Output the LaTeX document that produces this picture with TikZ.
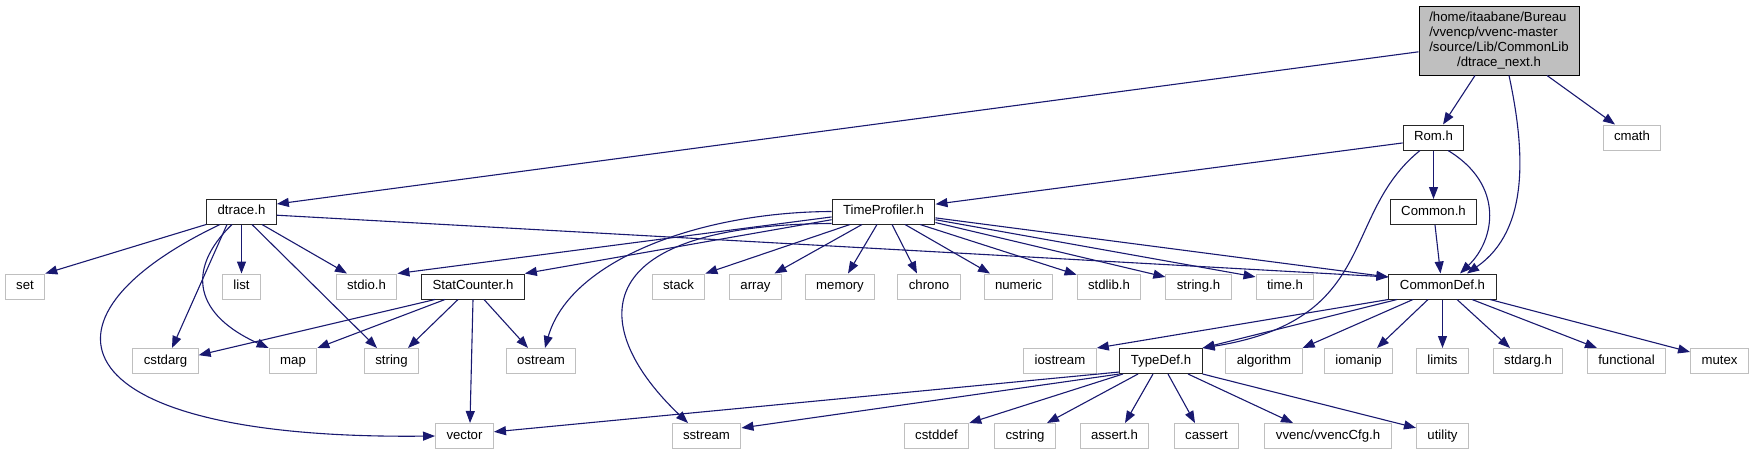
\documentclass[tikz,border=0pt]{standalone}
\usepackage{fontspec}
\setmainfont{Liberation Sans}
\usepackage{xcolor}
\usetikzlibrary{arrows.meta}

\definecolor{edgeblue}{RGB}{25,25,112}
\definecolor{grey75}{RGB}{191,191,191}

\begin{document}
\begin{tikzpicture}[x=1pt,y=-1pt,
  hdr/.style={draw=black!85,fill=white,line width=1pt,minimum height=25pt,inner xsep=11pt,inner ysep=0pt,
    font=\fontsize{13.2}{15}\selectfont,text height=9.6pt,text depth=2.8pt},
  sys/.style={hdr,draw=grey75},
  cur/.style={draw=black,fill=grey75,line width=1pt,minimum width=160pt,minimum height=69pt,inner sep=0pt,
    font=\fontsize{13.2}{15}\selectfont},
  incl/.style={draw=edgeblue,line width=1.1pt,-{Triangle[length=12pt,width=9pt]}}]

\useasboundingbox (0,0) rectangle (1755,455);

% The file itself
\node[cur] (main) at (1499,40.5) {\begin{tabular}{@{}l@{}}
/home/itaabane/Bureau\\
/vvencp/vvenc-master\\
/source/Lib/CommonLib\\
\multicolumn{1}{@{}c@{}}{/dtrace\_next.h}
\end{tabular}};

% Headers of the project
\node[hdr] (rom) at (1433.5,137.5) {Rom.h};
\node[sys] (cmath) at (1632,137.5) {cmath};
\node[hdr] (dtrace) at (241.5,211.5) {dtrace.h};
\node[hdr] (timeprof) at (883.5,211.5) {TimeProfiler.h};
\node[hdr] (common) at (1433.5,212) {Common.h};

% Row of stdio.h ... CommonDef.h
\node[sys] (set) at (25,286.5) {set};
\node[sys] (list) at (241.5,286.5) {list};
\node[sys] (stdio) at (366.5,286.5) {stdio.h};
\node[hdr] (statcnt) at (473,286.5) {StatCounter.h};
\node[sys] (stack) at (678.5,286.5) {stack};
\node[sys] (array) at (755.5,286.5) {array};
\node[sys] (memory) at (840,286.5) {memory};
\node[sys] (chrono) at (929,286.5) {chrono};
\node[sys] (numeric) at (1018.5,286.5) {numeric};
\node[sys] (stdlib) at (1109,286.5) {stdlib.h};
\node[sys] (stringh) at (1198.5,286.5) {string.h};
\node[sys] (timeh) at (1285,286.5) {time.h};
\node[hdr] (commondef) at (1442.5,286.5) {CommonDef.h};

% Row of cstdarg ... mutex
\node[sys] (cstdarg) at (165.5,361) {cstdarg};
\node[sys] (map) at (293,361) {map};
\node[sys] (string) at (391.5,361) {string};
\node[sys] (ostream) at (541,361) {ostream};
\node[sys] (iostream) at (1060,361) {iostream};
\node[hdr] (typedef) at (1161,361) {TypeDef.h};
\node[sys] (algorithm) at (1264,361) {algorithm};
\node[sys] (iomanip) at (1358.5,361) {iomanip};
\node[sys] (limits) at (1442.5,361) {limits};
\node[sys] (stdarg) at (1528,361) {stdarg.h};
\node[sys] (functional) at (1626.5,361) {functional};
\node[sys] (mutex) at (1719.5,361) {mutex};

% Bottom row
\node[sys] (vector) at (464.5,436) {vector};
\node[sys] (sstream) at (706.5,436) {sstream};
\node[sys] (cstddef) at (936.5,436) {cstddef};
\node[sys] (cstring) at (1025,436) {cstring};
\node[sys] (assert) at (1114.5,436) {assert.h};
\node[sys] (cassert) at (1206.5,436) {cassert};
\node[sys] (vvenccfg) at (1328,436) {vvenc/vvencCfg.h};
\node[sys] (utility) at (1442.5,436) {utility};

% includes of dtrace_next.h
\draw[incl] (main.188) -- (dtrace.12);
\draw[incl] ([xshift=-24pt]main.south) -- ([xshift=9.5pt]rom.north);
\draw[incl] ([xshift=10pt]main.south) .. controls (1525,150) and (1530,230) .. ([xshift=24.5pt]commondef.north);
\draw[incl] ([xshift=48pt]main.south) -- ([xshift=-17pt]cmath.north);

% includes of Rom.h
\draw[incl] (rom.190) -- (timeprof.8);
\draw[incl] (rom.south) -- (common.north);
\draw[incl] ([xshift=14.5pt]rom.south) .. controls (1505,185) and (1495,240) .. ([xshift=17.5pt]commondef.north);
\draw[incl] ([xshift=-13.5pt]rom.south) .. controls (1340,215) and (1380,320) .. (typedef.north east);

% Common.h
\draw[incl] ([xshift=1.5pt]common.south) -- ([xshift=-2pt]commondef.north);

% includes of dtrace.h
\draw[incl] (dtrace.south west) -- (set.north east);
\draw[incl] ([xshift=-21.5pt]dtrace.south) .. controls (20,320) and (60,440) .. (vector.west);
\draw[incl] ([xshift=-14.5pt]dtrace.south) -- ([xshift=6.5pt]cstdarg.north);
\draw[incl] ([xshift=-9.5pt]dtrace.south) .. controls (185,270) and (195,315) .. (map.north west);
\draw[incl] (dtrace.south) -- (list.north);
\draw[incl] ([xshift=10.5pt]dtrace.south) -- ([xshift=-14.5pt]string.north);
\draw[incl] ([xshift=20.5pt]dtrace.south) -- ([xshift=-19.5pt]stdio.north);
\draw[incl] (dtrace.-6) -- (commondef.170);

% includes of TimeProfiler.h
\draw[incl] (timeprof.186) -- (stdio.north east);
\draw[incl] (timeprof.189) -- (statcnt.north east);
\draw[incl] (timeprof.west) .. controls (700,212) and (570,260) .. ([xshift=4pt]ostream.north);
\draw[incl] (timeprof.193) .. controls (580,225) and (590,330) .. ([xshift=-18.5pt]sstream.north);
\draw[incl] ([xshift=-33.5pt]timeprof.south) -- (stack.north east);
\draw[incl] ([xshift=-21.5pt]timeprof.south) -- ([xshift=19pt]array.north);
\draw[incl] ([xshift=-6.5pt]timeprof.south) -- ([xshift=8pt]memory.north);
\draw[incl] ([xshift=8.5pt]timeprof.south) -- ([xshift=-12pt]chrono.north);
\draw[incl] ([xshift=21.5pt]timeprof.south) -- ([xshift=-28.5pt]numeric.north);
\draw[incl] ([xshift=36.5pt]timeprof.south) -- (stdlib.160);
\draw[incl] (timeprof.-12) -- (stringh.164);
\draw[incl] (timeprof.-9) -- (timeh.162);
\draw[incl] (timeprof.-7) -- (commondef.170);

% includes of StatCounter.h
\draw[incl] ([xshift=-38pt]statcnt.south) -- (cstdarg.10);
\draw[incl] ([xshift=-28pt]statcnt.south) -- (map.north east);
\draw[incl] ([xshift=-15pt]statcnt.south) -- ([xshift=16.5pt]string.north);
\draw[incl] (statcnt.south) -- ([xshift=5.5pt]vector.north);
\draw[incl] ([xshift=11pt]statcnt.south) -- ([xshift=-13pt]ostream.north);

% includes of CommonDef.h
\draw[incl] (commondef.south west) -- (iostream.north east);
\draw[incl] ([xshift=-45.5pt]commondef.south) -- (typedef.north east);
\draw[incl] ([xshift=-29.5pt]commondef.south) -- (algorithm.north east);
\draw[incl] ([xshift=-14.5pt]commondef.south) -- ([xshift=18.5pt]iomanip.north);
\draw[incl] (commondef.south) -- (limits.north);
\draw[incl] ([xshift=14.5pt]commondef.south) -- ([xshift=-18pt]stdarg.north);
\draw[incl] ([xshift=29.5pt]commondef.south) -- ([xshift=-29.5pt]functional.north);
\draw[incl] ([xshift=47.5pt]commondef.south) -- (mutex.163);

% includes of TypeDef.h
\draw[incl] ([yshift=2pt]typedef.south west) -- (vector.8);
\draw[incl] (typedef.south west) -- (sstream.13);
\draw[incl] ([xshift=-38pt]typedef.south) -- (cstddef.north east);
\draw[incl] ([xshift=-23pt]typedef.south) -- ([xshift=22pt]cstring.north);
\draw[incl] ([xshift=-8pt]typedef.south) -- ([xshift=10.5pt]assert.north);
\draw[incl] ([xshift=7pt]typedef.south) -- ([xshift=-11.5pt]cassert.north);
\draw[incl] ([xshift=27pt]typedef.south) -- ([xshift=-35pt]vvenccfg.north);
\draw[incl] (typedef.south east) -- (utility.163);

\end{tikzpicture}
\end{document}
